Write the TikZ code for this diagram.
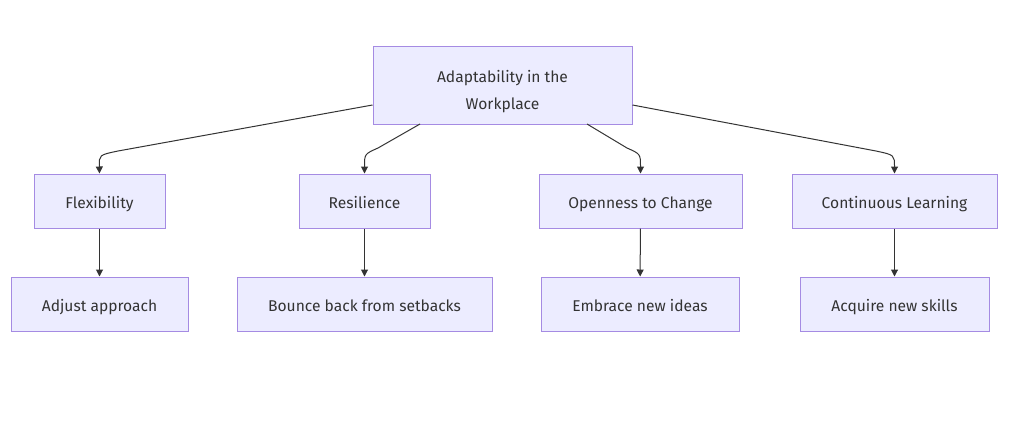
\documentclass[tikz,border=0pt]{standalone}
\usepackage{fontspec}
\setmainfont{Fira Sans}
\usetikzlibrary{arrows.meta}
\definecolor{boxfill}{HTML}{ECECFF}
\definecolor{boxline}{HTML}{A58BE3}
\definecolor{ink}{HTML}{333333}
\begin{document}
\begin{tikzpicture}[x=1pt,y=-1pt,
  box/.style={draw=boxline,fill=boxfill,line width=1pt,inner sep=0pt,
    text=ink,font=\fontsize{15.6}{27}\selectfont,align=center,
    text height=16pt,text depth=2pt},
  label/.style={inner sep=0pt,text=ink,font=\fontsize{15.6}{27}\selectfont,align=center},
  conn/.style={draw=ink,line width=1pt,-{Triangle[length=7pt,width=7pt]}}]
\useasboundingbox (0,0) rectangle (1024,429);
\fill[white] (0,0) rectangle (1024,429);
\node[box,minimum width=259pt,minimum height=78pt] (top) at (502.5,85) {};
\node[label] (toptext) at (502.5,92) {Adaptability in the\\Workplace};
\node[box,minimum width=131pt,minimum height=54pt] (flex) at (99.5,201) {Flexibility};
\node[box,minimum width=131pt,minimum height=54pt] (res) at (364.5,201) {Resilience};
\node[box,minimum width=203pt,minimum height=54pt] (open) at (640.5,201) {Openness to Change};
\node[box,minimum width=205pt,minimum height=54pt] (cont) at (894.5,201) {Continuous Learning};
\node[box,minimum width=177pt,minimum height=54pt] (adj) at (99.5,304) {Adjust approach};
\node[box,minimum width=255pt,minimum height=54pt] (bounce) at (364.5,304) {Bounce back from setbacks};
\node[box,minimum width=198pt,minimum height=54pt] (embr) at (640,304) {Embrace new ideas};
\node[box,minimum width=189pt,minimum height=54pt] (acq) at (894.5,304) {Acquire new skills};
\coordinate (a1) at (118,151);
\coordinate (c1) at (99,155);
\coordinate (a2) at (378,148);
\coordinate (c2) at (364.5,154);
\coordinate (a3) at (627,148);
\coordinate (c3) at (640.5,154);
\coordinate (a4) at (876,151);
\coordinate (c4) at (894.5,155);
\draw[conn] (top.west |- 0,105) -- (a1) .. controls (c1) .. (flex.north);
\draw[conn] (420,124) -- (a2) .. controls (c2) .. (res.north);
\draw[conn] (587,124) -- (a3) .. controls (c3) .. (open.north);
\draw[conn] (top.east |- 0,105) -- (a4) .. controls (c4) .. (cont.north);
\draw[conn] (flex) -- (adj);
\draw[conn] (res) -- (bounce);
\draw[conn] (open) -- (embr);
\draw[conn] (cont) -- (acq);
\end{tikzpicture}
\end{document}
